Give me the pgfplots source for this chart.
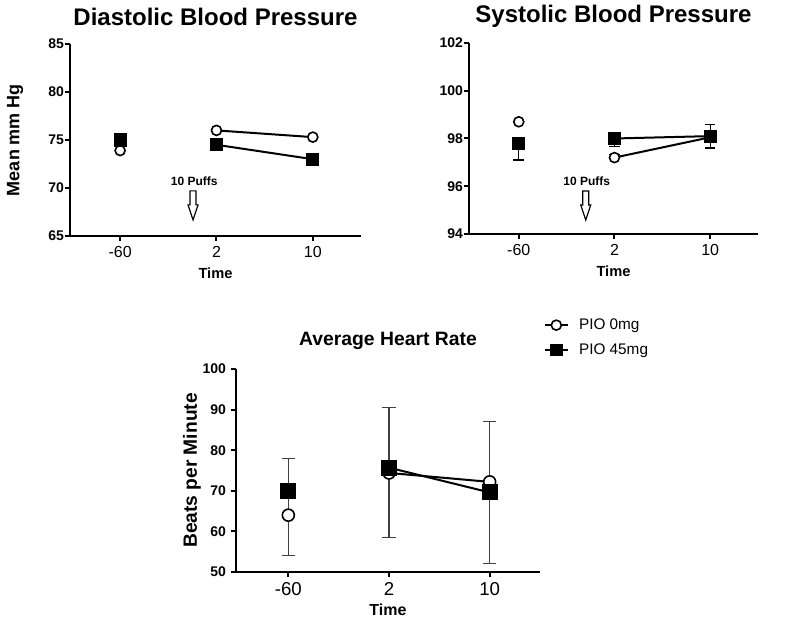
\documentclass[border=0pt]{standalone}
\usepackage{fontspec}
\setmainfont{Liberation Sans}
\usepackage{pgfplots}
\pgfplotsset{compat=1.18}

\pgfplotsset{
  prism/.style={
    scale only axis,
    axis lines=left,
    axis line style={-, line width=2pt},
    xmin=-0.52, xmax=2.5,
    xtick={0,1,2}, xticklabels={-60,2,10},
    tick align=outside,
    major tick length=4pt,
    tick style={line width=1.5pt, black},
    unbounded coords=jump,
    clip=false,
    /pgf/number format/assume math mode=true,
    yticklabel style={font=\bfseries\fontsize{10.5}{12}\selectfont, xshift=3pt},
    xticklabel style={font=\fontsize{12}{14}\selectfont},
    xlabel style={font=\bfseries\fontsize{11}{13}\selectfont, anchor=center},
    ylabel style={font=\bfseries\fontsize{13.5}{16}\selectfont, anchor=center, rotate=0},
    every axis title shift=0pt,
    title style={font=\bfseries\fontsize{18}{21}\selectfont, anchor=center},
  },
  circ/.style={black, line width=1.5pt, mark=*, mark size=3.75pt,
    mark options={fill=white, draw=black, line width=1.2pt}},
  sq/.style={black, line width=1.5pt, mark=square*, mark size=4.2pt,
    mark options={fill=black, draw=black}},
}

\begin{document}
\begin{tikzpicture}
\useasboundingbox (0,0) rectangle (600pt,466.5pt);

% Diastolic
\begin{axis}[prism,
  at={(52.5pt,289.5pt)}, anchor=south west,
  width=218.25pt, height=144pt,
  ymin=65, ymax=85, ytick={65,70,...,85},
  title={Diastolic Blood Pressure},
  title style={at={(axis description cs:0.5,1.141)}},
  xlabel={Time},
  xlabel style={at={(axis description cs:0.5,-0.193)}},
  ylabel={Mean mm Hg},
  ylabel style={at={(axis description cs:-0.189,0.5)}},
]
\addplot[circ] coordinates {(0,73.9) (0.5,nan) (1,76.0) (2,75.3)};
\addplot[sq] coordinates {(0,75.0) (0.5,nan) (1,74.5) (2,73.0)};
\node[font=\bfseries\fontsize{9}{11}\selectfont] at (axis cs:0.77,70.66) {10 Puffs};
\draw[line width=0.9pt, fill=white] (axis cs:0.757,69.7) ++(-2.25pt,0pt) -- ++(0pt,-10.5pt)
  -- ++(-1.5pt,0pt) -- ++(3.75pt,-11.25pt) -- ++(3.75pt,11.25pt) -- ++(-1.5pt,0pt)
  -- ++(0pt,10.5pt) -- cycle;
\end{axis}

% Systolic
\begin{axis}[prism,
  at={(351.75pt,291pt)}, anchor=south west,
  width=216.75pt, height=143.25pt,
  ymin=94, ymax=102, ytick={94,96,...,102},
  title={Systolic Blood Pressure},
  title style={at={(axis description cs:0.5,1.141)}},
  xlabel={Time},
  xlabel style={at={(axis description cs:0.5,-0.193)}},
]
\addplot[draw=none, forget plot, error bars/.cd, y dir=both, y explicit,
  error bar style={draw=black, line width=0.9pt},
  error mark options={draw=black, rotate=90, mark size=4pt, line width=0.9pt}]
  coordinates {(0,97.8) += (0,0) -= (0,0.7)
               (1,98.0) += (0,0) -= (0,0.35)
               (1,97.2) += (0,0.14) -= (0,0)
               (2,98.1) += (0,0.5) -= (0,0.5)};
\addplot[circ] coordinates {(0,98.7) (0.5,nan) (1,97.2) (2,98.05)};
\addplot[sq] coordinates {(0,97.8) (0.5,nan) (1,98.0) (2,98.1)};
\node[font=\bfseries\fontsize{9}{11}\selectfont] at (axis cs:0.71,96.2) {10 Puffs};
\draw[line width=0.9pt, fill=white] (axis cs:0.70,95.8) ++(-2.25pt,0pt) -- ++(0pt,-10.5pt)
  -- ++(-1.5pt,0pt) -- ++(3.75pt,-11.25pt) -- ++(3.75pt,11.25pt) -- ++(-1.5pt,0pt)
  -- ++(0pt,10.5pt) -- cycle;
\end{axis}

% Heart rate
\begin{axis}[prism,
  at={(177pt,37.5pt)}, anchor=south west,
  width=228pt, height=152.25pt,
  ymin=50, ymax=100, ytick={50,60,...,100},
  yticklabel style={font=\bfseries\fontsize{10.5}{12}\selectfont, xshift=-3pt},
  xticklabel style={font=\fontsize{14}{16}\selectfont},
  title={Average Heart Rate},
  title style={font=\bfseries\fontsize{14.5}{17}\selectfont, at={(axis description cs:0.5,1.14)}},
  xlabel={Time},
  xlabel style={font=\bfseries\fontsize{12}{14}\selectfont, at={(axis description cs:0.5,-0.187)}},
  ylabel={Beats per Minute},
  ylabel style={font=\bfseries\fontsize{14.4}{17}\selectfont, at={(axis description cs:-0.145,0.5)}},
  legend style={draw=none, fill=none, font=\fontsize{11.5}{14}\selectfont,
    at={(axis description cs:1.0,1.275)}, anchor=north west, row sep=5pt,
    /tikz/every odd column/.append style={column sep=6pt}},
  legend cell align=left,
]
\addlegendimage{black, line width=1pt, mark=*, mark size=3.75pt, mark options={fill=white, line width=1.2pt}}
\addlegendentry{PIO 0mg}
\addlegendimage{black, line width=1pt, mark=square*, mark size=4.2pt}
\addlegendentry{PIO 45mg}
\addplot[draw=none, forget plot, error bars/.cd, y dir=both, y explicit,
  error bar style={draw=black!75, line width=0.9pt},
  error mark options={draw=black!75, rotate=90, mark size=5pt, line width=0.9pt}]
  coordinates {(0,70.0) += (0,8.0) -= (0,16.0)
               (1,74.4) += (0,16.1) -= (0,16.0)
               (2,69.6) += (0,17.4) -= (0,17.5)};
\addplot[circ, forget plot, mark size=4.5pt] coordinates {(0,64.0) (0.5,nan) (1,74.4) (2,72.2)};
\addplot[sq, forget plot, mark size=5.2pt] coordinates {(0,70.0) (0.5,nan) (1,75.7) (2,69.6)};
\end{axis}
\end{tikzpicture}
\end{document}
